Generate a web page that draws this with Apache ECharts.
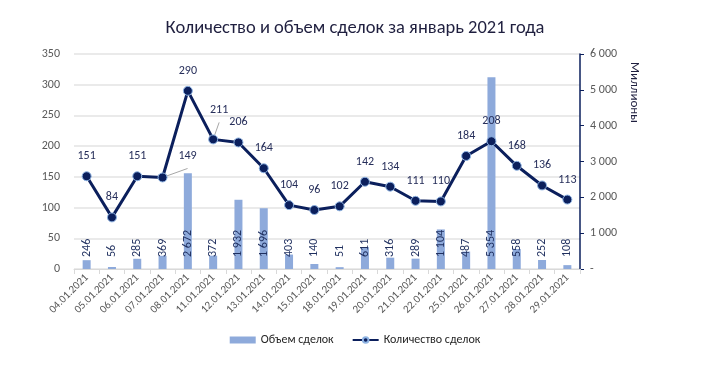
<!DOCTYPE html>
<html><head><meta charset="utf-8">
<script src="https://cdn.jsdelivr.net/npm/echarts@6/dist/echarts.min.js"></script>
<style>html,body{margin:0;padding:0;background:#fff}#c{width:710px;height:373px}</style>
</head><body><div id="c"></div>
<script>
const categories = ['04.01.2021','05.01.2021','06.01.2021','07.01.2021','08.01.2021','11.01.2021','12.01.2021','13.01.2021','14.01.2021','15.01.2021','18.01.2021','19.01.2021','20.01.2021','21.01.2021','22.01.2021','25.01.2021','26.01.2021','27.01.2021','28.01.2021','29.01.2021'];
const volumeValues = [246,56,285,369,2672,372,1932,1696,403,140,51,611,316,289,1104,487,5354,558,252,108];
const countValues = [151,84,151,149,290,211,206,164,104,96,102,142,134,111,110,184,208,168,136,113];
const leftTicks = {min:0, max:350, interval:50};
const rightTicks = {min:0, max:6000, interval:1000};

const F = 'Calibri, Carlito, "Open Sans", "Noto Sans", sans-serif';
const fmt = v => String(v).replace(/\B(?=(\d{3})+(?!\d))/g, ' ');
const navy = '#0b1f5c';
const txt = '#595959';

const lineData = countValues.map((v,i) => {
  const d = {value: v};
  if (i === 3) { d.label = {position:'top', offset:[25,-1]}; d.labelLine = {show:true, lineStyle:{color:'#a6a6a6', width:1}}; }
  if (i === 5) { d.label = {position:'top', offset:[6,-9]}; d.labelLine = {show:true, lineStyle:{color:'#a6a6a6', width:1}}; }
  return d;
});

const chart = echarts.init(document.getElementById('c'), null, {renderer:'canvas'});
chart.setOption({
  animation:false,
  title:{text:'Количество и объем сделок за январь 2021 года', left:'center', top:14,
    textStyle:{fontFamily:F, fontSize:18.5, fontWeight:'normal', color:'#1f1f3f'}},
  grid:{left:74, right:130, top:54, bottom:104, outerBoundsMode:'none', containLabel:false},
  legend:{bottom:22, left:'center', itemGap:18, itemWidth:26, itemHeight:7,
    textStyle:{fontFamily:F, fontSize:12, color:'#262626'},
    data:[{name:'Объем сделок', icon:'rect'},{name:'Количество сделок'}]},
  graphic:[{type:'text', left:628, top:62, rotation:-Math.PI/2,
    style:{text:'Миллионы', font:'13px ' + F, fill:'#1f1f3f'}}],
  xAxis:{type:'category', data:categories, boundaryGap:true,
    axisLine:{lineStyle:{color:'#d9d9d9', width:1}},
    axisTick:{show:true, alignWithLabel:false, length:5, lineStyle:{color:'#d9d9d9'}},
    axisLabel:{rotate:45, fontFamily:F, fontSize:11, color:txt, margin:7, interval:0}},
  yAxis:[
    {type:'value', min:leftTicks.min, max:leftTicks.max, interval:leftTicks.interval,
      axisLine:{show:false}, axisTick:{show:false},
      axisLabel:{fontFamily:F, fontSize:12, color:txt, margin:14},
      splitLine:{lineStyle:{color:'#e3e3e3', width:1.5}}},
    {type:'value', min:rightTicks.min, max:rightTicks.max, interval:rightTicks.interval, position:'right',
      axisLine:{show:true, lineStyle:{color:navy, width:1.5}},
      axisTick:{show:true, length:4, lineStyle:{color:navy}},
      axisLabel:{fontFamily:F, fontSize:12, color:txt, margin:10, formatter:v => v===0 ? '-' : fmt(v)},
      splitLine:{show:false}}
  ],
  series:[
    {name:'Объем сделок', type:'bar', yAxisIndex:1, data:volumeValues, barWidth:8,
      itemStyle:{color:'#8eaadb'},
      label:{show:true, position:'insideBottom', rotate:90, align:'left', verticalAlign:'middle', distance:12,
        fontFamily:F, fontSize:12, color:'#1f2f5f', formatter:p => fmt(p.value)}},
    {name:'Количество сделок', type:'line', yAxisIndex:0, data:lineData,
      symbol:'circle', symbolSize:9,
      lineStyle:{color:navy, width:3},
      itemStyle:{color:navy, borderColor:'#8fb4e3', borderWidth:1},
      label:{show:true, position:'top', distance:9, fontFamily:F, fontSize:12, color:'#262e5a'},
      z:5}
  ]
});
</script></body></html>
